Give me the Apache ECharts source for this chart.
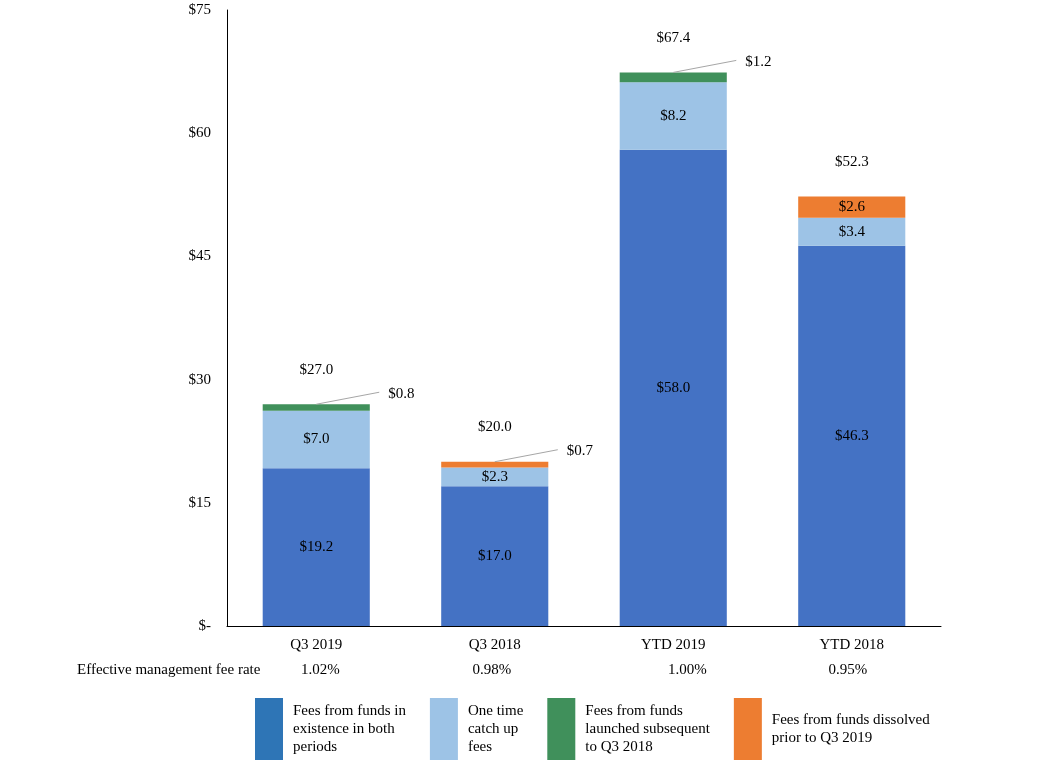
<!DOCTYPE html>
<html>
<head>
<meta charset="utf-8">
<script src="https://cdn.jsdelivr.net/npm/echarts@6/dist/echarts.min.js"></script>
<style>
html,body{margin:0;padding:0;background:#fff;}
#chart{width:1061px;height:775px;}
</style>
</head>
<body>
<div id="chart"></div>
<script>
const categories = ['Q3 2019', 'Q3 2018', 'YTD 2019', 'YTD 2018'];
const feeRates = ['1.02%', '0.98%', '1.00%', '0.95%'];
const existingFunds = [19.2, 17.0, 58.0, 46.3];
const catchUpFees = [7.0, 2.3, 8.2, 3.4];
const launchedFunds = [0.8, null, 1.2, null];
const dissolvedFunds = [null, 0.7, null, 2.6];
const totals = [27.0, 20.0, 67.4, 52.3];
const seriesNames = [
  'Fees from funds in\nexistence in both\nperiods',
  'One time\ncatch up\nfees',
  'Fees from funds\nlaunched subsequent\nto Q3 2018',
  'Fees from funds dissolved\nprior to Q3 2019'
];
const yTicks = [0, 15, 30, 45, 60, 75];

const FONT = '"Liberation Serif", "Times New Roman", serif';
const COLORS = ['#4472C4', '#9DC3E6', '#40905B', '#ED7D31'];
const LEGEND_COLORS = ['#2E75B6', '#9DC3E6', '#40905B', '#ED7D31'];
const fmt = v => '$' + Number(v).toFixed(1);
const SMALL = 1.5;
const stackValues = [existingFunds, catchUpFees, launchedFunds, dissolvedFunds];

function makeSeries(idx, values) {
  return {
    name: seriesNames[idx], type: 'bar', stack: 'fees', barWidth: '60%', barGap: '-100%',
    itemStyle: {color: COLORS[idx]},
    data: values.map(v => {
      if (v === null) return null;
      if (v < SMALL) return {value: v, label: {position: 'top', distance: 4}};
      return {value: v, label: {position: 'inside'}};
    }),
    label: {show: true, color: '#000', fontFamily: FONT, fontSize: 15, formatter: p => fmt(p.value)},
    labelLayout: p => (values[p.dataIndex] !== null && values[p.dataIndex] < SMALL) ? {dx: 85, dy: 1} : {}
  };
}

// leader line anchors: [category index, top of the small segment in the stack]
const leaderData = [];
stackValues.forEach((vals, si) => {
  vals.forEach((v, ci) => {
    if (v !== null && v < SMALL) {
      let top = 0;
      for (let k = 0; k <= si; k++) top += stackValues[k][ci] || 0;
      leaderData.push([ci, top]);
    }
  });
});

const chart = echarts.init(document.getElementById('chart'));
chart.setOption({
  animation: false,
  backgroundColor: '#fff',
  grid: {left: 227, right: 120, top: 10, bottom: 149},
  xAxis: [
    {
      type: 'category', data: categories, position: 'bottom',
      axisLine: {lineStyle: {color: '#000', width: 1}},
      axisTick: {show: false},
      axisLabel: {color: '#000', fontFamily: FONT, fontSize: 15, margin: 12}
    },
    {
      type: 'category', position: 'bottom', offset: 25,
      data: feeRates.map((r, i) => ({value: r, textStyle: {padding: [[0,0,0,8],[0,6,0,0],[0,0,0,28],[0,8,0,0]][i]}})),
      axisLine: {show: false}, axisTick: {show: false},
      axisLabel: {color: '#000', fontFamily: FONT, fontSize: 15, margin: 12}
    }
  ],
  yAxis: {
    type: 'value', min: 0, max: 75, interval: 15,
    axisLine: {show: true, lineStyle: {color: '#000', width: 1}},
    axisTick: {show: false},
    splitLine: {show: false},
    axisLabel: {color: '#000', fontFamily: FONT, fontSize: 15, margin: 16,
      formatter: v => yTicks.includes(v) ? (v === 0 ? '$-' : '$' + v) : ''}
  },
  legend: {
    left: 250, top: 693,
    itemWidth: 28, itemHeight: 62, itemGap: 24,
    icon: 'rect',
    textStyle: {color: '#000', fontFamily: FONT, fontSize: 15, lineHeight: 18, padding: [4, 0, 0, 5]},
    data: seriesNames.map((n, i) => ({name: n, itemStyle: {color: LEGEND_COLORS[i]}}))
  },
  graphic: [{
    type: 'text', left: 77, top: 663,
    style: {text: 'Effective management fee rate', fill: '#000', font: '15px ' + FONT}
  }],
  series: [
    makeSeries(0, existingFunds),
    makeSeries(1, catchUpFees),
    makeSeries(2, launchedFunds),
    makeSeries(3, dissolvedFunds),
    {name: 'Total', type: 'bar', barWidth: '60%', barGap: '-100%', z: 0, itemStyle: {color: 'rgba(0,0,0,0)'},
      label: {show: true, position: 'top', distance: 27, color: '#000', fontFamily: FONT, fontSize: 15, formatter: p => fmt(p.value)},
      data: totals, silent: true},
    {name: 'Leader', type: 'custom', silent: true, z: 3, data: leaderData,
      renderItem: (params, api) => {
        const p = api.coord([api.value(0), api.value(1)]);
        return {type: 'line', shape: {x1: p[0], y1: p[1], x2: p[0] + 63, y2: p[1] - 12},
          style: {stroke: '#A6A6A6', lineWidth: 1}};
      }}
  ]
});
</script>
</body>
</html>
